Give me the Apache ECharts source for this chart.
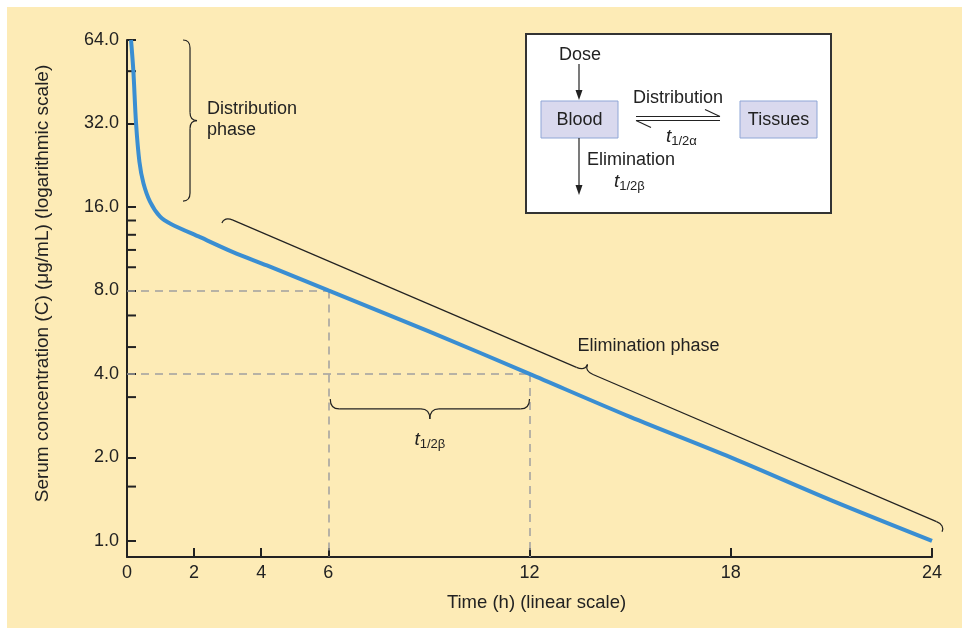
<!DOCTYPE html>
<html>
<head>
<meta charset="utf-8">
<script src="https://cdn.jsdelivr.net/npm/echarts@6/dist/echarts.min.js"></script>
<style>
html,body{margin:0;padding:0;background:#ffffff;}
#c{width:962px;height:628px;}
</style>
</head>
<body>
<div id="c"></div>
<script>
// ---- data ----
const timeH = [0.12, 0.19, 0.27, 0.37, 0.49, 0.69, 0.98, 1.31, 2.18, 3.16, 4.17, 6, 9, 12, 15, 18, 21, 24];
const concentration = [64, 49.4, 32, 23.3, 19.5, 16.7, 14.8, 13.9, 12.45, 11.0, 9.85, 8, 5.7, 4, 2.8, 2.0, 1.4, 1.0];
const xLabelValues = [0, 2, 4, 6, 12, 18, 24];
const xTickValues = [2, 4, 6, 12, 18, 24];
const yLabelValues = [1, 2, 4, 8, 16, 32, 64];
const yMinorTickValues = [1.57, 3.3, 5.0, 6.5, 9.7, 11.2, 12.7, 14.3, 49.4];
const halfLifeTimes = [6, 12];
const halfLifeConc = [8, 4];

const FONT = 'Liberation Sans, Arial, Helvetica, sans-serif';
const INK = '#222222';
const Y_MIN = 0.875;
const chart = echarts.init(document.getElementById('c'));

const markData = [];
halfLifeTimes.forEach((t, i) => {
  const c = halfLifeConc[i];
  markData.push([{coord: [0, c]}, {coord: [t, c]}]);
  markData.push([{coord: [t, c]}, {coord: [t, Y_MIN]}]);
});

chart.setOption({
  backgroundColor: 'transparent',
  animation: false,
  grid: {left: 127, right: 30, top: 40, bottom: 71, containLabel: false},
  xAxis: {
    type: 'value', min: 0, max: 24, interval: 2,
    name: 'Time (h) (linear scale)', nameLocation: 'middle', nameGap: 36,
    nameTextStyle: {fontFamily: FONT, fontSize: 18.5, color: INK, padding: [0, 0, 0, 14]},
    axisLine: {show: true, lineStyle: {color: INK, width: 2}},
    axisTick: {show: true, inside: true, length: 9, customValues: xTickValues, lineStyle: {color: INK, width: 2}},
    axisLabel: {customValues: xLabelValues, fontFamily: FONT, fontSize: 18, color: INK, margin: 7},
    splitLine: {show: false}
  },
  yAxis: {
    type: 'log', logBase: 2, min: Y_MIN, max: 64, splitNumber: 6,
    name: 'Serum concentration (C) (\u03bcg/mL) (logarithmic scale)', nameLocation: 'middle', nameGap: 75,
    nameTextStyle: {fontFamily: FONT, fontSize: 19, color: INK, padding: [0, 0, 0, 30]},
    axisLine: {show: true, lineStyle: {color: INK, width: 2}},
    axisTick: {show: true, inside: true, length: 9, lineStyle: {color: INK, width: 2}},
    axisLabel: {
      showMinLabel: false, fontFamily: FONT, fontSize: 18, color: INK, margin: 8,
      formatter: v => (yLabelValues.indexOf(Math.round(v * 1000) / 1000) >= 0 ? Number(v).toFixed(1) : '')
    },
    splitLine: {show: false}
  },
  series: [
    {
      type: 'line', data: timeH.map((t, i) => [t, concentration[i]]),
      showSymbol: false, smooth: 0.3, z: 5,
      lineStyle: {color: '#3A8ED2', width: 4},
      markLine: {
        silent: true, symbol: ['none', 'none'], label: {show: false},
        lineStyle: {color: '#a0a0a0', type: [8, 6], width: 1.5, opacity: 1},
        data: markData, z: 1
      }
    },
    {
      type: 'custom', coordinateSystem: 'cartesian2d', silent: true, z: 4,
      data: yMinorTickValues.map(v => [0, v]),
      renderItem: (params, api) => {
        const p = api.coord([api.value(0), api.value(1)]);
        return {type: 'line', shape: {x1: p[0], y1: p[1], x2: p[0] + 9, y2: p[1]},
                style: {stroke: INK, lineWidth: 2}};
      }
    }
  ]
});

// ---- annotations positioned through the axes ----
const P = (t, c) => chart.convertToPixel({gridIndex: 0}, [t, c]);
const braceStyle = {stroke: INK, lineWidth: 1.2, fill: null};
function brace(A, B, n, d, r) {
  const dx = B[0] - A[0], dy = B[1] - A[1], L = Math.hypot(dx, dy);
  const u = [dx / L, dy / L], h = d / 2;
  const M = [(A[0] + B[0]) / 2, (A[1] + B[1]) / 2];
  const pt = (b, su, sn) => [b[0] + u[0] * su + n[0] * sn, b[1] + u[1] * su + n[1] * sn];
  const tip = pt(M, 0, d);
  const q = (p0, c, p1) => ({type: 'bezierCurve', z: 10, silent: true,
    shape: {x1: p0[0], y1: p0[1], cpx1: c[0], cpy1: c[1], x2: p1[0], y2: p1[1]}, style: braceStyle});
  const l = (p0, p1) => ({type: 'line', z: 10, silent: true,
    shape: {x1: p0[0], y1: p0[1], x2: p1[0], y2: p1[1]}, style: braceStyle});
  const els = [
    q(A, pt(A, 0, h), pt(A, r, h)),
    l(pt(A, r, h), pt(M, -r, h)),
    q(pt(M, -r, h), pt(M, 0, h), tip),
    q(tip, pt(M, 0, h), pt(M, r, h)),
    l(pt(M, r, h), pt(B, -r, h)),
    q(pt(B, -r, h), pt(B, 0, h), B)
  ];
  return {els, tip};
}
const txt = (text, x, y, extra) => ({type: 'text', z: 20, silent: true, style: Object.assign({
  text, x, y, fontFamily: FONT, fontSize: 18, fill: INK, align: 'left', verticalAlign: 'middle'}, extra || {})});
const sub = (main, s, x, y, align) => ({type: 'text', z: 20, silent: true, style: {
  text: '{i|' + main + '}{s|' + s + '}', x, y, align: align || 'left', verticalAlign: 'middle',
  rich: {
    i: {fontFamily: FONT, fontSize: 19, fontStyle: 'italic', fill: INK, lineHeight: 22, verticalAlign: 'middle'},
    s: {fontFamily: FONT, fontSize: 13, fill: INK, lineHeight: 22, verticalAlign: 'bottom'}
  }}});
const seg = (x1, y1, x2, y2) => ({type: 'line', z: 16, silent: true, shape: {x1, y1, x2, y2}, style: {stroke: INK, lineWidth: 1.2}});
const head = pts => ({type: 'polygon', z: 16, silent: true, shape: {points: pts}, style: {fill: INK}});

const g = [];
// background panel
g.push({type: 'rect', z: -100, silent: true, shape: {x: 7, y: 7, width: 955, height: 621}, style: {fill: '#FDEBB6'}});

// distribution brace
const bd = brace(P(1.67, 64), P(1.67, 16.8), [1, 0], 14, 8);
g.push(...bd.els);
g.push(txt('Distribution\nphase', bd.tip[0] + 10, bd.tip[1] - 1, {lineHeight: 21}));

// elimination brace
const eA = P(2.83, 14.0), eB = P(24.3, 1.08);
const eu = [eB[0] - eA[0], eB[1] - eA[1]], eL = Math.hypot(eu[0], eu[1]);
const be = brace(eA, eB, [eu[1] / eL, -eu[0] / eL], 14, 9);
g.push(...be.els);
g.push(txt('Elimination phase', be.tip[0] - 10, be.tip[1] - 18));

// half-life brace
const h1 = P(halfLifeTimes[0], halfLifeConc[1]), h2 = P(halfLifeTimes[1], halfLifeConc[1]);
const bh = brace([h1[0] + 2, h1[1] + 25], [h2[0], h2[1] + 25], [0, 1], 20, 9);
g.push(...bh.els);
g.push(sub('t', '1/2\u03b2', bh.tip[0], bh.tip[1] + 21, 'center'));

// inset diagram
g.push({type: 'rect', z: 15, silent: true, shape: {x: 526, y: 34, width: 305, height: 179}, style: {fill: '#ffffff', stroke: '#333333', lineWidth: 2}});
g.push(txt('Dose', 580, 55, {align: 'center'}));
g.push(seg(579, 64, 579, 94));
g.push(head([[575.5, 90], [579, 100], [582.5, 90]]));
g.push({type: 'rect', z: 16, silent: true, shape: {x: 541, y: 101, width: 77, height: 37}, style: {fill: '#D9D9EE', stroke: '#8FA6D6', lineWidth: 1}});
g.push(txt('Blood', 579.5, 120, {align: 'center'}));
g.push({type: 'rect', z: 16, silent: true, shape: {x: 740, y: 101, width: 77, height: 37}, style: {fill: '#D9D9EE', stroke: '#8FA6D6', lineWidth: 1}});
g.push(txt('Tissues', 778.5, 120, {align: 'center'}));
g.push(txt('Distribution', 678, 98, {align: 'center'}));
g.push(seg(636, 116.5, 720, 116.5));
g.push(seg(720, 116.5, 705, 109.5));
g.push(seg(636, 120.5, 720, 120.5));
g.push(seg(636, 120.5, 651, 127.5));
g.push(sub('t', '1/2\u03b1', 666, 137));
g.push(seg(579, 138, 579, 188));
g.push(head([[575.5, 185], [579, 195], [582.5, 185]]));
g.push(txt('Elimination', 587, 160));
g.push(sub('t', '1/2\u03b2', 614, 182));

chart.setOption({graphic: {elements: g}});
</script>
</body>
</html>
